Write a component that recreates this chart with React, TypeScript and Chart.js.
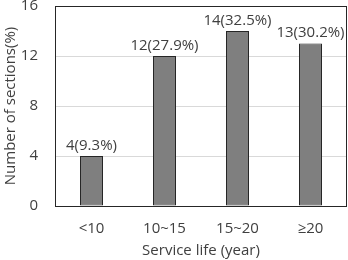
import React, { useEffect, useRef } from "react";
import { Chart, registerables } from "chart.js";

Chart.register(...registerables);

const categories = ["<10", "10~15", "15~20", "≥20"];
const counts = [4, 12, 14, 13];
const percents = ["9.3%", "27.9%", "32.5%", "30.2%"];
const yTicks = [0, 4, 8, 12, 16];

const FONT = "'Open Sans', sans-serif";
const TEXT = "#404040";

const plotBorder = {
  id: "plotBorder",
  afterDatasetsDraw(chart: any) {
    const { ctx, chartArea } = chart;
    ctx.save();
    ctx.strokeStyle = "#262626";
    ctx.lineWidth = 1;
    ctx.strokeRect(
      Math.round(chartArea.left) + 0.5,
      Math.round(chartArea.top) + 0.5,
      Math.round(chartArea.right - chartArea.left) - 1,
      Math.round(chartArea.bottom - chartArea.top)
    );
    ctx.restore();
  },
};

const barLabels = {
  id: "barLabels",
  afterDatasetsDraw(chart: any) {
    const { ctx } = chart;
    const meta = chart.getDatasetMeta(0);
    ctx.save();
    ctx.font = `15px ${FONT}`;
    ctx.fillStyle = TEXT;
    ctx.textAlign = "center";
    ctx.textBaseline = "bottom";
    meta.data.forEach((bar: any, i: number) => {
      ctx.fillText(`${counts[i]}(${percents[i]})`, bar.x, bar.y - 3);
    });
    ctx.restore();
  },
};

export default function App() {
  const ref = useRef<HTMLCanvasElement>(null);
  useEffect(() => {
    document.body.style.margin = "0";
    const chart = new Chart(ref.current!, {
      type: "bar",
      data: {
        labels: categories,
        datasets: [
          {
            data: counts,
            backgroundColor: "#7f7f7f",
            borderColor: "#262626",
            borderWidth: 1,
            borderSkipped: false,
            categoryPercentage: 1,
            barPercentage: 0.315,
          },
        ],
      },
      options: {
        animation: false,
        responsive: false,
        maintainAspectRatio: false,
        layout: { padding: { top: 6, right: 1, left: 0, bottom: 0 } },
        plugins: { legend: { display: false }, tooltip: { enabled: false } },
        scales: {
          x: {
            afterFit: (axis: any) => {
              axis.height = 54;
            },
            grid: { display: false, drawTicks: false },
            border: { display: false },
            ticks: { color: TEXT, font: { family: FONT, size: 15 }, padding: 14 },
            title: {
              display: true,
              text: "Service life (year)",
              color: TEXT,
              font: { family: FONT, size: 15 },
              padding: { top: 0, bottom: 0 },
            },
          },
          y: {
            min: 0,
            max: 16,
            afterFit: (axis: any) => {
              axis.width = 55;
              axis.paddingTop = 0;
              axis.paddingBottom = 0;
            },
            afterBuildTicks: (axis: any) => {
              axis.ticks = yTicks.map((v) => ({ value: v }));
            },
            grid: { color: "#d9d9d9", drawTicks: false },
            border: { display: false },
            ticks: { color: TEXT, font: { family: FONT, size: 15 }, padding: 17 },
            title: {
              display: true,
              text: "Number of sections(%)",
              color: TEXT,
              font: { family: FONT, size: 15 },
              padding: { top: 2, bottom: 0 },
            },
          },
        },
      },
      plugins: [plotBorder, barLabels],
    });
    return () => chart.destroy();
  }, []);
  return (
    <div style={{ width: 348, height: 260 }}>
      <canvas ref={ref} width={348} height={260} />
    </div>
  );
}
